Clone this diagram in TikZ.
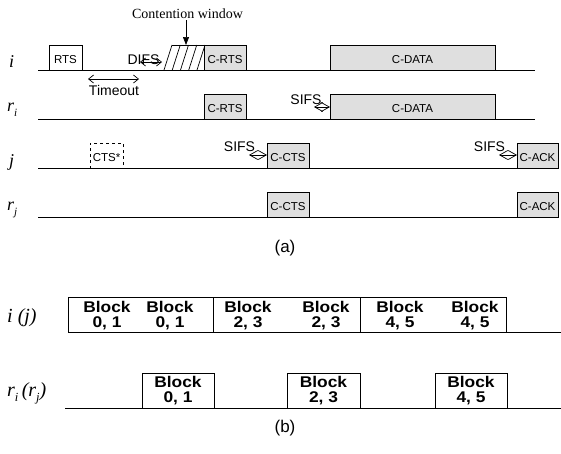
\documentclass[tikz,border=0pt]{standalone}
\usepackage{fontspec}
\setmainfont{Liberation Sans}
\newfontfamily\tms{Liberation Serif}
\newfontfamily\blkfont[FakeStretch=1.12]{Liberation Sans}
\usetikzlibrary{arrows.meta}
\newcommand{\lsub}[1]{\raisebox{-0.28em}{\fontsize{0.62em}{1em}\selectfont #1}}
\begin{document}
\begin{tikzpicture}[x=1pt,y=-1pt,
  pkt/.style={draw, line width=0.8pt, inner sep=0pt, outer sep=0pt, minimum height=25pt,
    font=\fontsize{11.5}{12}\selectfont, text height=12pt, text depth=0pt},
  gpkt/.style={pkt, fill=gray!25},
  lbl/.style={font=\fontsize{14}{14}\selectfont, inner sep=0pt},
  tl/.style={line width=0.8pt},
  dbl/.style={{Straight Barb[length=5pt,width=8pt]}-{Straight Barb[length=5pt,width=8pt]}, line width=0.7pt},
  sifsarr/.style={{Straight Barb[length=8pt,width=9pt]}-{Straight Barb[length=8pt,width=9pt]}, line width=0.7pt},
  blk/.style={draw, line width=0.8pt, inner sep=0pt, outer sep=0pt, minimum height=35pt,
    font=\blkfont\bfseries\fontsize{15.5}{15}\selectfont, align=center},
  btxt/.style={font=\blkfont\bfseries\fontsize{15.5}{15}\selectfont, align=center, inner sep=0pt},
  rowlbl/.style={font=\tms\itshape\fontsize{18}{18}\selectfont, anchor=base west, inner sep=0pt},
  rowlblb/.style={font=\tms\itshape\fontsize{20}{20}\selectfont, anchor=base west, inner sep=0pt},
  captxt/.style={font=\fontsize{17}{17}\selectfont, inner sep=0pt}
]
\useasboundingbox (0,0) rectangle (561,453);

% ---------- part (a): time lines ----------
\coordinate (ti0) at (38,70);  \coordinate (ti1) at (535,70);
\coordinate (tr0) at (38,119); \coordinate (tr1) at (535,119);
\coordinate (tj0) at (38,168);
\coordinate (trj0) at (38,217);
\draw[tl] (ti0) -- (ti1);
\draw[tl] (tr0) -- (tr1);

% row labels
\node[rowlbl] (li) at (9,67) {i};
\node[rowlbl] (lri) at (7,111) {r\lsub{i}};
\node[rowlbl] (lj) at (9,166) {j};
\node[rowlbl] (lrj) at (7,210) {r\lsub{j}};

% packets
\node[pkt, minimum width=33pt] (rts) at (65.5,57.5) {RTS};
\node[gpkt, minimum width=42pt] (crtsi) at (225,57.5) {C-RTS};
\node[gpkt, minimum width=165pt] (cdatai) at (412.5,57.5) {C-DATA};
\node[gpkt, minimum width=42pt] (crtsr) at (225,106.5) {C-RTS};
\node[gpkt, minimum width=165pt] (cdatar) at (412.5,106.5) {C-DATA};
\node[pkt, dashed, minimum width=33pt] (cts) at (106.5,155.5) {CTS*};
\node[gpkt, minimum width=42pt] (cctsj) at (288,155.5) {C-CTS};
\node[gpkt, minimum width=41pt] (cackj) at (537.5,155.5) {C-ACK};
\node[gpkt, minimum width=42pt] (cctsr) at (288,204.5) {C-CTS};
\node[gpkt, minimum width=41pt] (cackr) at (537.5,204.5) {C-ACK};
\draw[tl] (tj0) -- (cackj.south west);
\draw[tl] (trj0) -- (cackr.south west);

% contention window (hatched)
\foreach \k in {0,...,4} \draw[line width=0.7pt] ({164+8.25*\k},70) -- ({172+8.25*\k},45);
\coordinate (cwl) at (172,45);
\draw[line width=0.7pt] (cwl) -- (crtsi.north west);
\node[font=\tms\fontsize{14}{14}\selectfont, anchor=base, inner sep=2pt] (cwt) at (187.5,18) {Contention window};
\coordinate (cw) at (186,45);
\draw[-{Triangle[length=8pt,width=6pt]}, line width=0.7pt] (cwt.south -| cw) -- (cw);

% DIFS
\node[lbl] (difs) at (143.5,60) {DIFS};
\coordinate (d1) at (140,62); \coordinate (d2) at (162,62);
\draw[dbl] (d1) -- (d2);

% Timeout
\coordinate (t1) at (88,79); \coordinate (t2) at (139,79);
\draw[dbl] (t1) -- (t2);
\node[lbl] (tout) at (114,90) {Timeout};

% SIFS
\node[lbl] (s1) at (306,100) {SIFS};
\coordinate (s1a) at (314,107);
\draw[sifsarr] (s1a) -- (s1a -| cdatar.west);
\node[lbl] (s2) at (239.5,147) {SIFS};
\coordinate (s2a) at (249,155);
\draw[sifsarr] (s2a) -- (s2a -| cctsj.west);
\node[lbl] (s3) at (489.5,147) {SIFS};
\coordinate (s3a) at (499,155);
\draw[sifsarr] (s3a) -- (s3a -| cackj.west);

\node[captxt] (capa) at (285,248) {(a)};

% ---------- part (b) ----------
\node[rowlblb] (lij) at (7,322) {i (j)};
\node[rowlblb] (lrirj) at (7,396) {r\lsub{i}\,(r\lsub{j})};

\node[blk, minimum width=145pt] (c1) at (140.5,314.5) {};
\node[blk, minimum width=147pt] (c2) at (286.5,314.5) {};
\node[blk, minimum width=146pt] (c3) at (433,314.5) {};
\coordinate (e1) at (561,332);
\draw[tl] (c3.south east) -- (e1);

\node[btxt] (b1) at (107,316) {Block\\0, 1};
\node[btxt] (b2) at (170,316) {Block\\0, 1};
\node[btxt] (b3) at (248,316) {Block\\2, 3};
\node[btxt] (b4) at (326,316) {Block\\2, 3};
\node[btxt] (b5) at (400,316) {Block\\4, 5};
\node[btxt] (b6) at (475,316) {Block\\4, 5};

\coordinate (r2a) at (65,408); \coordinate (r2b) at (561,408);
\draw[tl] (r2a) -- (r2b);
\node[blk, minimum width=72pt] (k1) at (178,390.5) {Block\\0, 1};
\node[blk, minimum width=73pt] (k2) at (323.5,390.5) {Block\\2, 3};
\node[blk, minimum width=72pt] (k3) at (471,390.5) {Block\\4, 5};

\node[captxt] (capb) at (285,428) {(b)};
\end{tikzpicture}
\end{document}
